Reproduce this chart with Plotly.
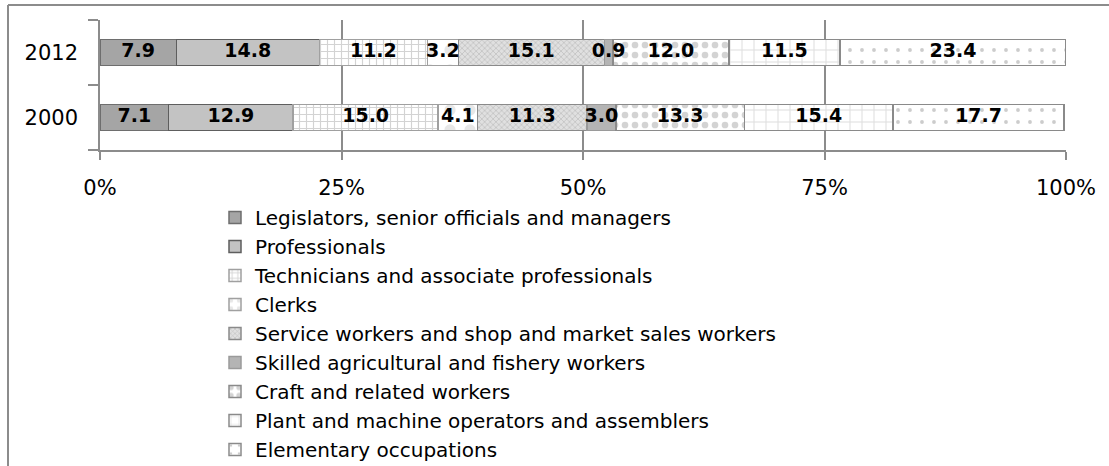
import plotly.graph_objects as go

years = ["2000", "2012"]
occupations = [
    "Legislators, senior officials and managers",
    "Professionals",
    "Technicians and associate professionals",
    "Clerks",
    "Service workers and shop and market sales workers",
    "Skilled agricultural and fishery workers",
    "Craft and related workers",
    "Plant and machine operators and assemblers",
    "Elementary occupations",
]
values_2000 = [7.1, 12.9, 15.0, 4.1, 11.3, 3.0, 13.3, 15.4, 17.7]
values_2012 = [7.9, 14.8, 11.2, 3.2, 15.1, 0.9, 12.0, 11.5, 23.4]
x_ticks = [0, 25, 50, 75, 100]
x_tick_labels = ["0%", "25%", "50%", "75%", "100%"]

styles = [
    dict(color="#a5a5a5", line="#6e6e6e", pattern=None),
    dict(color="#c3c3c3", line="#5e5e5e", pattern=None),
    dict(color="white", line="#a0a0a0", pattern=dict(shape="+", fgcolor="#a8a8a8", bgcolor="white", size=7, solidity=0.3)),
    dict(color="white", line="#a0a0a0", pattern=dict(shape=".", fgcolor="#d0d0d0", bgcolor="white", size=20, solidity=0.25)),
    dict(color="#d6d6d6", line="#8a8a8a", pattern=dict(shape="x", fgcolor="#a0a0a0", bgcolor="#e0e0e0", size=4, solidity=0.35)),
    dict(color="#b4b4b4", line="#9a9a9a", pattern=None),
    dict(color="white", line="#8a8a8a", pattern=dict(shape=".", fgcolor="#a8a8a8", bgcolor="white", size=10, solidity=0.35)),
    dict(color="white", line="#8a8a8a", pattern=dict(shape="+", fgcolor="#b8b8b8", bgcolor="white", size=12, solidity=0.15)),
    dict(color="white", line="#8a8a8a", pattern=dict(shape=".", fgcolor="#9a9a9a", bgcolor="white", size=12, solidity=0.08)),
]

FONT = "DejaVu Sans"
fig = go.Figure()
for i, occ in enumerate(occupations):
    st = styles[i]
    marker = dict(color=st["color"], line=dict(color=st["line"], width=1.5))
    if st["pattern"] is not None:
        marker["pattern"] = st["pattern"]
    fig.add_trace(go.Bar(
        y=years,
        x=[values_2000[i], values_2012[i]],
        name=occ,
        orientation="h",
        marker=marker,
        hoverinfo="skip",
    ))

# value labels drawn on top of all bars, positioned at segment centres
for yr, vals in (("2000", values_2000), ("2012", values_2012)):
    mids = []
    cum = 0.0
    for v in vals:
        mids.append(cum + v / 2.0)
        cum += v
    fig.add_trace(go.Scatter(
        x=mids, y=[yr] * len(vals),
        mode="text",
        text=["<b>%.1f</b>" % v for v in vals],
        textposition="middle center",
        textfont=dict(family=FONT, size=19, color="black"),
        showlegend=False,
        hoverinfo="skip",
        cliponaxis=False,
    ))

W, H = 1109, 466
L, R, T, B = 100, 43, 20, 316
ph = H - T - B
pw = W - L - R

def px_x(p):
    return (p - L) / pw

def px_y(p):
    return (H - B - p) / ph

fig.update_layout(
    width=W, height=H,
    margin=dict(l=L, r=R, t=T, b=B, pad=0, autoexpand=False),
    barmode="stack",
    bargap=0.6,
    paper_bgcolor="white",
    plot_bgcolor="white",
    font=dict(family=FONT, size=21, color="black"),
    showlegend=True,
    legend=dict(
        x=px_x(215), y=px_y(198), xanchor="left", yanchor="top",
        traceorder="normal",
        font=dict(family=FONT, size=20, color="black"),
        bgcolor="rgba(0,0,0,0)",
        borderwidth=0,
        tracegroupgap=0,
        maxheight=600,
    ),
    xaxis=dict(
        range=[0, 100],
        tickmode="array", tickvals=x_ticks, ticktext=x_tick_labels,
        showgrid=True, gridcolor="#8c8c8c", gridwidth=1.5,
        showline=True, linecolor="#8c8c8c", linewidth=1.5,
        ticks="outside", ticklen=8, tickcolor="#8c8c8c", tickwidth=1.5,
        ticklabelstandoff=10,
        zeroline=False, fixedrange=True,
        tickfont=dict(family=FONT, size=21, color="black"),
    ),
    yaxis=dict(
        type="category",
        showline=True, linecolor="#8c8c8c", linewidth=1.5,
        ticks="outside", ticklen=10, tickcolor="#8c8c8c", tickwidth=1.5,
        tickson="boundaries",
        ticklabelstandoff=16,
        showgrid=False, fixedrange=True,
        tickfont=dict(family=FONT, size=21, color="black"),
    ),
    shapes=[
        dict(type="line", xref="paper", yref="paper",
             x0=px_x(8), x1=px_x(8), y0=px_y(5), y1=px_y(480),
             line=dict(color="#8c8c8c", width=2)),
        dict(type="line", xref="paper", yref="paper",
             x0=px_x(8), x1=px_x(1120), y0=px_y(5), y1=px_y(5),
             line=dict(color="#8c8c8c", width=2)),
    ],
)

fig.write_html(
    "out.html",
    config={"displayModeBar": False},
    post_script="document.body.style.margin='0';document.body.style.overflow='hidden';",
)
